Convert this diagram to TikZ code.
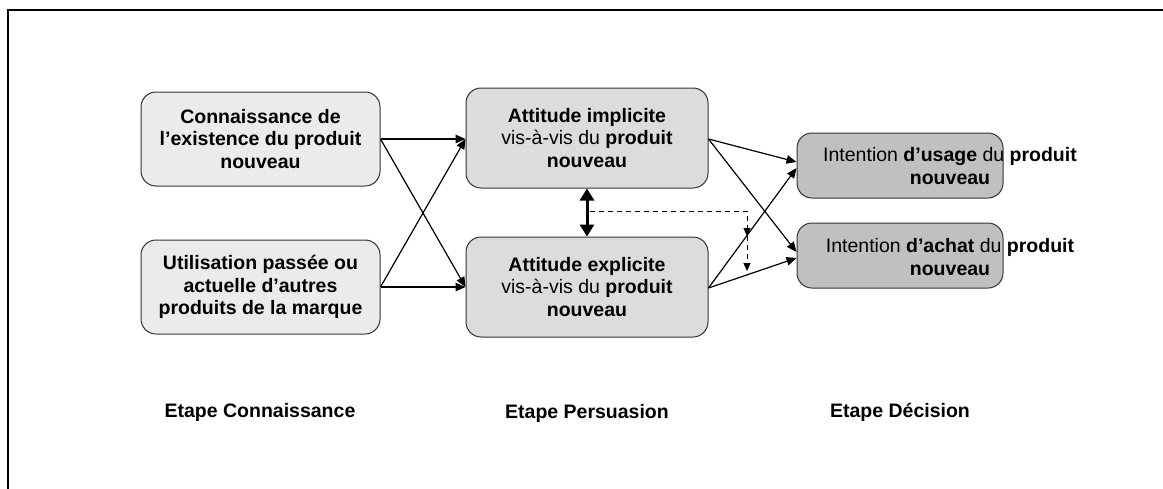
\documentclass[tikz,border=0pt]{standalone}
\usepackage{fontspec}
\setmainfont{Liberation Sans}
\usetikzlibrary{arrows.meta}
\definecolor{boxA}{HTML}{EBEBEB}
\definecolor{boxB}{HTML}{DCDCDC}
\definecolor{boxC}{HTML}{C0C0C0}
\definecolor{edge}{HTML}{333333}
\begin{document}
\begin{tikzpicture}[x=1pt,y=-1pt,
  box/.style={draw=edge, line width=1pt, rounded corners=15pt, align=center, inner sep=0pt,
    font=\fontsize{19.5}{22.5}\selectfont},
  txt/.style={align=center, inner sep=0pt, font=\fontsize{19.5}{22.5}\selectfont},
  lab/.style={inner sep=0pt, font=\fontsize{19.5}{22.5}\selectfont\bfseries},
  arr/.style={-{Triangle[length=10pt,width=8.5pt]}, line width=1.2pt},
  dbl/.style={{Triangle[length=12pt,width=14pt]}-{Triangle[length=12pt,width=14pt]}, line width=3pt},
  dsh/.style={-{Triangle[length=8pt,width=7pt]}, line width=1pt, dash pattern=on 5pt off 4pt},
  frame/.style={line width=2pt, line cap=rect}
]
\useasboundingbox (0,0) rectangle (1163,488);
\draw[frame] (8,488) -- (8,10) -- (1163,10);

\node[box, fill=boxA, minimum width=239pt, minimum height=94pt] (A1) at (260.5,139)
  {\textbf{Connaissance de}\\\textbf{l’existence du produit}\\\textbf{nouveau}};
\node[box, fill=boxA, minimum width=239pt, minimum height=94pt] (A2) at (260.5,287)
  {\textbf{Utilisation passée ou}\\\textbf{actuelle d’autres}\\\textbf{produits de la marque}};
\node[box, fill=boxB, minimum width=242pt, minimum height=100pt] (B1) at (587,138)
  {\textbf{Attitude implicite}\\vis-à-vis du \textbf{produit}\\\textbf{nouveau}};
\node[box, fill=boxB, minimum width=242pt, minimum height=100pt] (B2) at (587,287)
  {\textbf{Attitude explicite}\\vis-à-vis du \textbf{produit}\\\textbf{nouveau}};
\node[box, fill=boxC, minimum width=206pt, minimum height=65pt] (C1) at (900,165.5) {};
\node[box, fill=boxC, minimum width=206pt, minimum height=65pt] (C2) at (900,255.5) {};
\node[txt] (C1t) at (950,166) {Intention \textbf{d’usage} du \textbf{produit}\\\textbf{nouveau}};
\node[txt] (C2t) at (950,257) {Intention \textbf{d’achat} du \textbf{produit}\\\textbf{nouveau}};

\node[lab] (L1) at (260,412) {Etape Connaissance};
\node[lab] (L2) at (587,413) {Etape Persuasion};
\node[lab] (L3) at (900,412) {Etape Décision};

\draw[arr] (A1.east) -- (B1.west |- A1.east);
\draw[arr] (A1.east) -- (B2.west |- A2.east);
\draw[arr] (A2.east) -- (B1.west |- A1.east);
\draw[arr] (A2.east) -- (B2.west |- A2.east);

\draw[arr] ([yshift=-1pt]B1.east) -- ([yshift=3.5pt]C1.west);
\draw[arr] ([yshift=-1pt]B1.east) -- ([yshift=3.5pt]C2.west);
\draw[arr] ([yshift=-1pt]B2.east) -- ([yshift=-2.5pt]C1.west);
\draw[arr] ([yshift=-1pt]B2.east) -- ([yshift=-2.5pt]C2.west);

\draw[dbl] (B1.south) -- (B2.north);
\coordinate (d0) at (590,211);
\coordinate (d1) at (747,211);
\coordinate (d2) at (747,236);
\coordinate (d3) at (747,271);
\draw[dsh] (d0) -- (d1) -- (d2);
\draw[dsh] (d2) -- (d3);
\end{tikzpicture}
\end{document}
